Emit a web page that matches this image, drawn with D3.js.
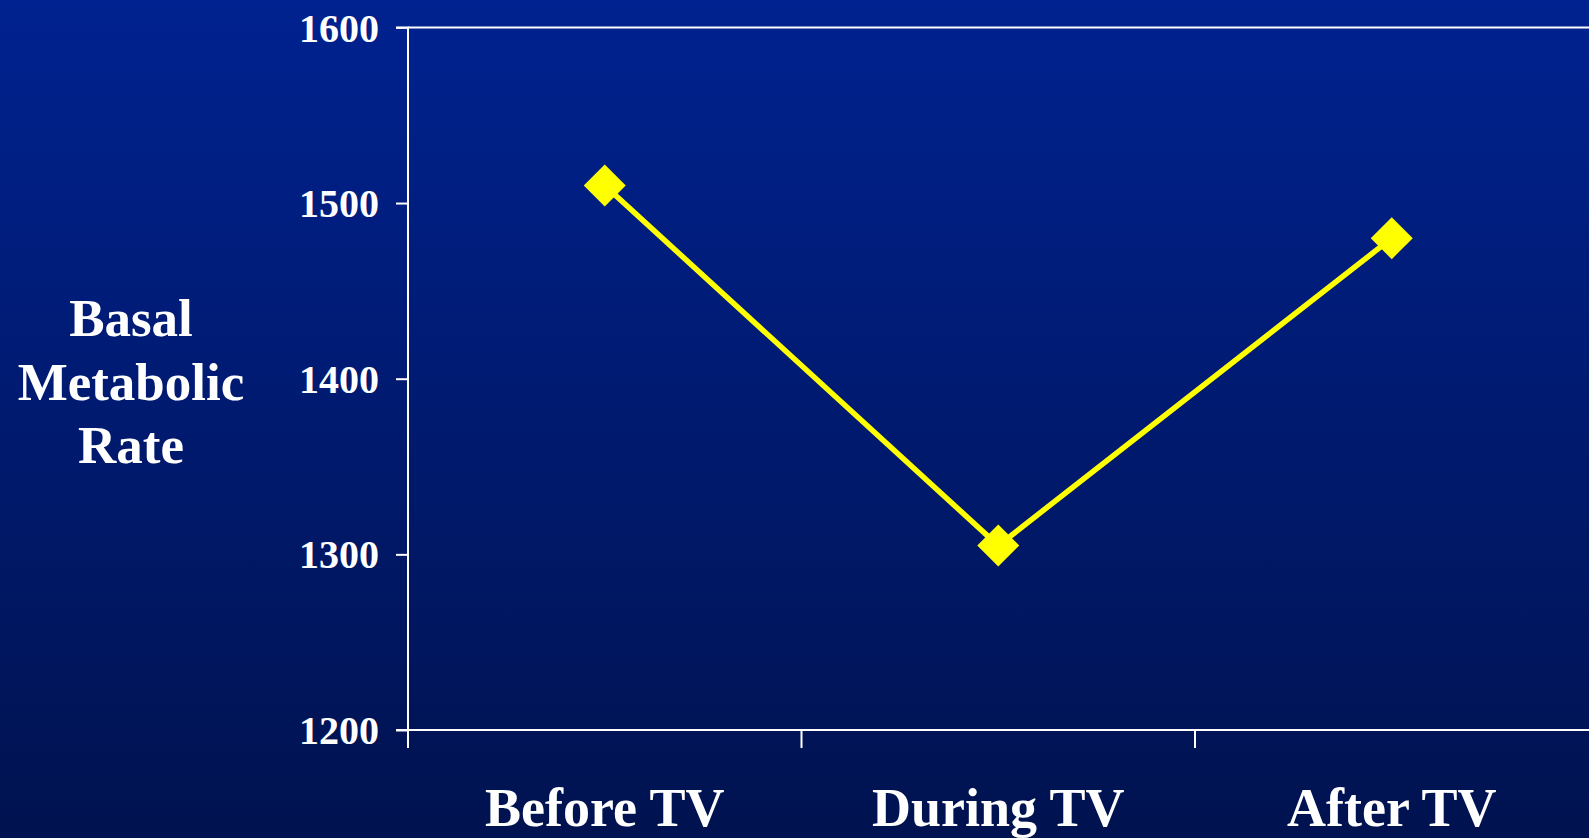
<!DOCTYPE html>
<html>
<head>
<meta charset="utf-8">
<script src="https://cdn.jsdelivr.net/npm/d3@7"></script>
<style>
  html, body { margin: 0; padding: 0; overflow: hidden; }
  svg { display: block; }
  text { font-family: "Liberation Serif", "Times New Roman", serif; font-weight: bold; fill: #fff; }
</style>
</head>
<body>
<svg id="chart" width="1589" height="838"></svg>
<script>
const categories = ["Before TV", "During TV", "After TV"];
const values = [1510, 1305, 1480];
const yTicks = [1200, 1300, 1400, 1500, 1600];
const yLabelLines = ["Basal", "Metabolic", "Rate"];

(function () {
const W = 1589, H = 838;
const svg = d3.select("#chart");

const defs = svg.append("defs");
const grad = defs.append("linearGradient").attr("id", "bg").attr("x1", 0).attr("y1", 0).attr("x2", 0).attr("y2", 1);
grad.append("stop").attr("offset", "0%").attr("stop-color", "#002290");
grad.append("stop").attr("offset", "100%").attr("stop-color", "#00124f");
svg.append("rect").attr("width", W).attr("height", H).attr("fill", "url(#bg)");

const pLeft = 408, pRight = 408 + 3 * 393.5, pTop = 27.4, pBottom = 730;

const x = d3.scaleBand().domain(categories).range([pLeft, pRight]).padding(0);
const y = d3.scaleLinear().domain([1200, 1600]).range([pBottom, pTop]);

// top border line at max
svg.append("line")
  .attr("x1", pLeft).attr("x2", W)
  .attr("y1", y(1600)).attr("y2", y(1600))
  .attr("stroke", "#fff").attr("stroke-width", 2);

// y axis
const yAxis = d3.axisLeft(y).tickValues(yTicks).tickSize(12).tickPadding(17).tickFormat(d3.format("d"));
const gy = svg.append("g").attr("transform", `translate(${pLeft},0)`).call(yAxis);
gy.select(".domain").attr("stroke", "#fff").attr("stroke-width", 2).attr("d", `M-12,${y(1600)}H0V${y(1200)}H-12`);
gy.selectAll(".tick line").attr("stroke", "#fff").attr("stroke-width", 2);
gy.selectAll(".tick text").attr("font-size", 40).attr("font-family", "Liberation Serif").attr("font-weight", "bold").attr("fill", "#fff").attr("dy", "0.34em");

// x axis
svg.append("line")
  .attr("x1", pLeft).attr("x2", W)
  .attr("y1", pBottom).attr("y2", pBottom)
  .attr("stroke", "#fff").attr("stroke-width", 2);
svg.selectAll(".xtick").data(categories).enter().append("line")
  .attr("x1", d => x(d)).attr("x2", d => x(d))
  .attr("y1", pBottom).attr("y2", pBottom + 18)
  .attr("stroke", "#fff").attr("stroke-width", 2);
svg.selectAll(".xlab").data(categories).enter().append("text")
  .attr("x", d => x(d) + x.bandwidth() / 2)
  .attr("y", 826)
  .attr("text-anchor", "middle")
  .attr("font-size", 54)
  .text(d => d);

// y label
svg.selectAll(".ylab").data(yLabelLines).enter().append("text")
  .attr("x", 131)
  .attr("y", (d, i) => 336 + i * 63.5)
  .attr("text-anchor", "middle")
  .attr("font-size", 53)
  .text(d => d);

// line
const data = categories.map((c, i) => ({ c, v: values[i] }));
const cx = d => x(d.c) + x.bandwidth() / 2;
svg.append("path")
  .datum(data)
  .attr("fill", "none")
  .attr("stroke", "#ffff00")
  .attr("stroke-width", 5.5)
  .attr("d", d3.line().x(cx).y(d => y(d.v)));

const r = 21;
svg.selectAll(".mk").data(data).enter().append("path")
  .attr("fill", "#ffff00")
  .attr("d", d => `M${cx(d)},${y(d.v) - r}L${cx(d) + r},${y(d.v)}L${cx(d)},${y(d.v) + r}L${cx(d) - r},${y(d.v)}Z`);
})();
</script>
</body>
</html>
